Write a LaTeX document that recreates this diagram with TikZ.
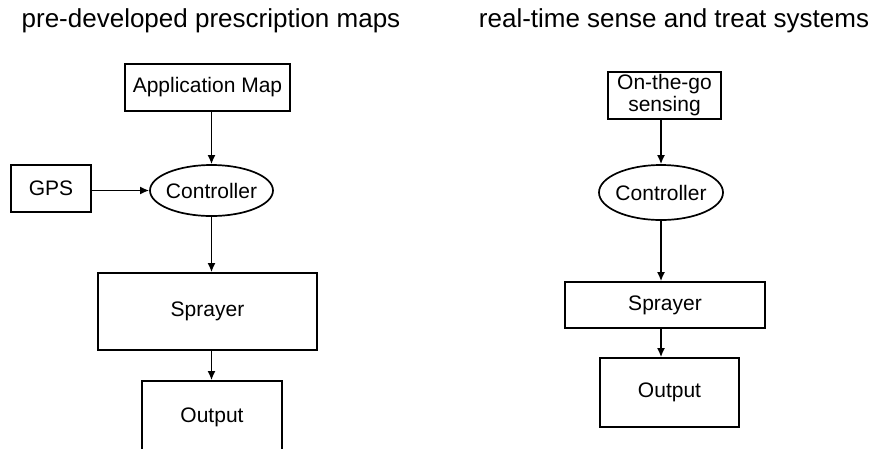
\documentclass[tikz,border=0pt]{standalone}
\usepackage{fontspec}
\setmainfont{Liberation Sans}
\usetikzlibrary{arrows.meta,shapes.geometric}
\begin{document}
\begin{tikzpicture}[x=1pt,y=-1pt,
  box/.style={draw, line width=1.7pt, rectangle, inner sep=0pt,
    font=\fontsize{21}{22}\selectfont, align=center},
  oval/.style={draw, line width=1.7pt, ellipse, inner xsep=-4pt, inner ysep=0pt,
    font=\fontsize{21}{22}\selectfont},
  heading/.style={font=\fontsize{26}{28}\selectfont},
  flow/.style={line width=1.6pt, -{Latex[length=9pt,width=8pt]}}]
\useasboundingbox (0,0) rectangle (874,448);

% left column: pre-developed prescription maps
\node[heading] (title1) at (211,21) {pre-developed prescription maps};
\node[box, minimum width=165, minimum height=47] (appmap) at (207.5,87.5) {Application Map};
\node[oval, minimum width=123, minimum height=51] (ctrl1) at (211.5,190.5) {Controller};
\node[box, minimum width=80, minimum height=47] (gps) at (51,188.5) {GPS};
\node[box, minimum width=219, minimum height=77] (spray1) at (207.5,311.5) {Sprayer};
\node[box, minimum width=140, minimum height=72] (out1) at (212,417) {Output};

\draw[flow] (ctrl1.north |- appmap.south) -- (ctrl1.north);
\draw[flow] (gps.east |- ctrl1.west) -- (ctrl1.west);
\draw[flow] (ctrl1.south) -- (ctrl1.south |- spray1.north);
\draw[flow] (ctrl1.south |- spray1.south) -- (ctrl1.south |- out1.north);

% right column: real-time sense and treat systems
\node[heading] (title2) at (674,21) {real-time sense and treat systems};
\node[box, minimum width=113, minimum height=47] (sense) at (664.5,95.5) {On-the-go\\sensing};
\node[oval, minimum width=124, minimum height=55] (ctrl2) at (661,192.5) {Controller};
\node[box, minimum width=200, minimum height=46] (spray2) at (665,305) {Sprayer};
\node[box, minimum width=139, minimum height=69] (out2) at (669.5,392.5) {Output};

\draw[flow] (ctrl2.north |- sense.south) -- (ctrl2.north);
\draw[flow] (ctrl2.south) -- (ctrl2.south |- spray2.north);
\draw[flow] (ctrl2.south |- spray2.south) -- (ctrl2.south |- out2.north);
\end{tikzpicture}
\end{document}
